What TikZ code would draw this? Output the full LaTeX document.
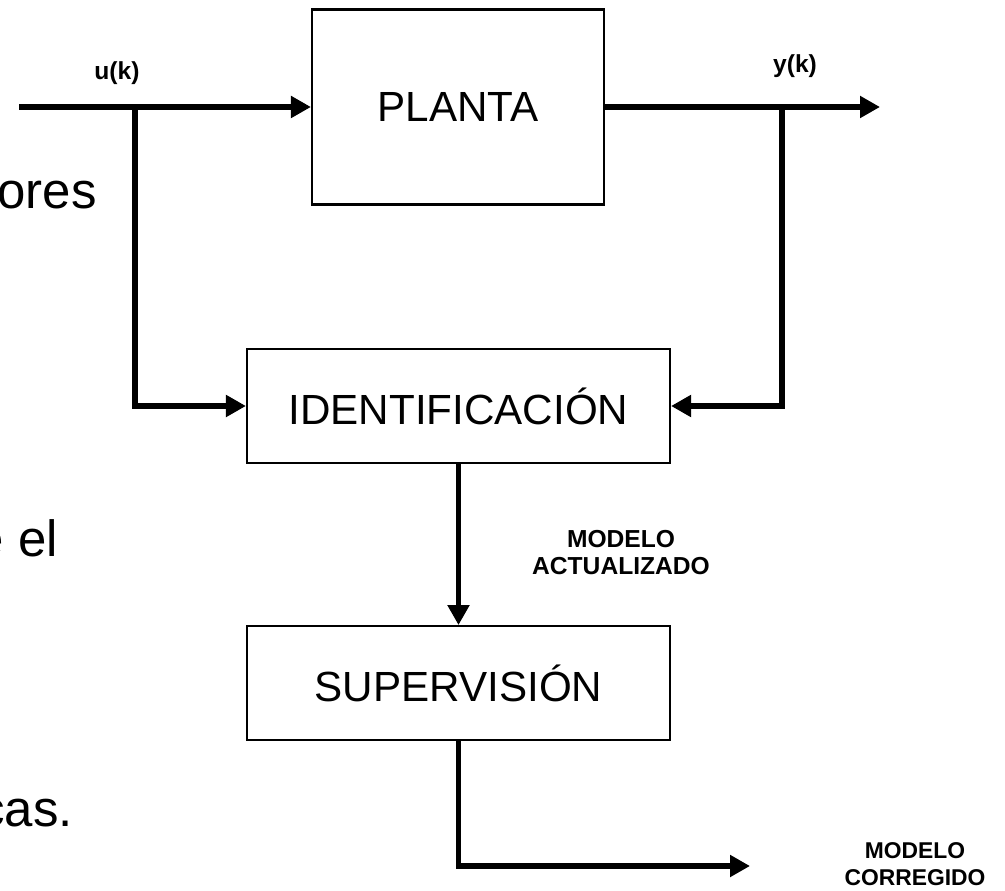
\documentclass[tikz,border=0pt]{standalone}
\usepackage{fontspec}
\setmainfont{Liberation Sans}
\usetikzlibrary{arrows.meta, positioning}

\begin{document}
\begin{tikzpicture}[
  font=\fontsize{24}{28}\selectfont,
  block/.style={draw, line width=1.2pt, minimum width=8.46cm, minimum height=2.28cm},
  arrow/.style={-{Triangle[length=0.4cm, width=0.42cm]}, line width=3.2pt},
  tag/.style={font=\fontsize{14}{15}\selectfont\bfseries, align=center},
  cut/.style={font=\fontsize{29}{35}\selectfont, anchor=base east},
]
\useasboundingbox (0,0) rectangle (20.1,-17.82);

% Blocks
\node[block, minimum width=5.84cm, minimum height=3.9cm] (planta) at (9.16,-2.14) {PLANTA};
\node[block] (ident) at (9.17,-8.12) {IDENTIFICACIÓN};
\node[block, below=3.22cm of ident] (superv) {SUPERVISIÓN};

% Slide text cut at the left edge
\node[cut] (ores) at (2.06,-4.18) {ores};
\node[cut] (eel) at (1.28,-11.12) {e el};
\node[cut] (cas) at (1.58,-16.52) {cas.};

% Signal points
\coordinate (uin) at (0.38,-2.14);
\coordinate (usplit) at (2.7,-2.14);
\coordinate (ysplit) at (15.64,-2.14);
\coordinate (yout) at (17.6,-2.14);
\coordinate (mout) at (15.0,-17.32);

% Signal labels
\node[tag] (uk) at (2.34,-1.46) {u(k)};
\node[tag] (yk) at (15.9,-1.32) {y(k)};
\node[tag, font=\fontsize{13}{15}\selectfont\bfseries, inner sep=1pt] (corregido) at (18.3,-17.28) {MODELO\\CORREGIDO};

% Plant input and output
\draw[arrow] (uin) -- (planta.west);
\draw[arrow] (planta.east) -- (yout);

% Measurements into identification
\draw[arrow] (usplit) |- (ident.west);
\draw[arrow] (ysplit) |- (ident.east);

% Model path
\draw[arrow] (ident.south) -- node[tag, right=1.3cm, yshift=-0.16cm] (actualizado) {MODELO\\ACTUALIZADO} (superv.north);
\draw[arrow] (superv.south) |- (mout);

\end{tikzpicture}
\end{document}
